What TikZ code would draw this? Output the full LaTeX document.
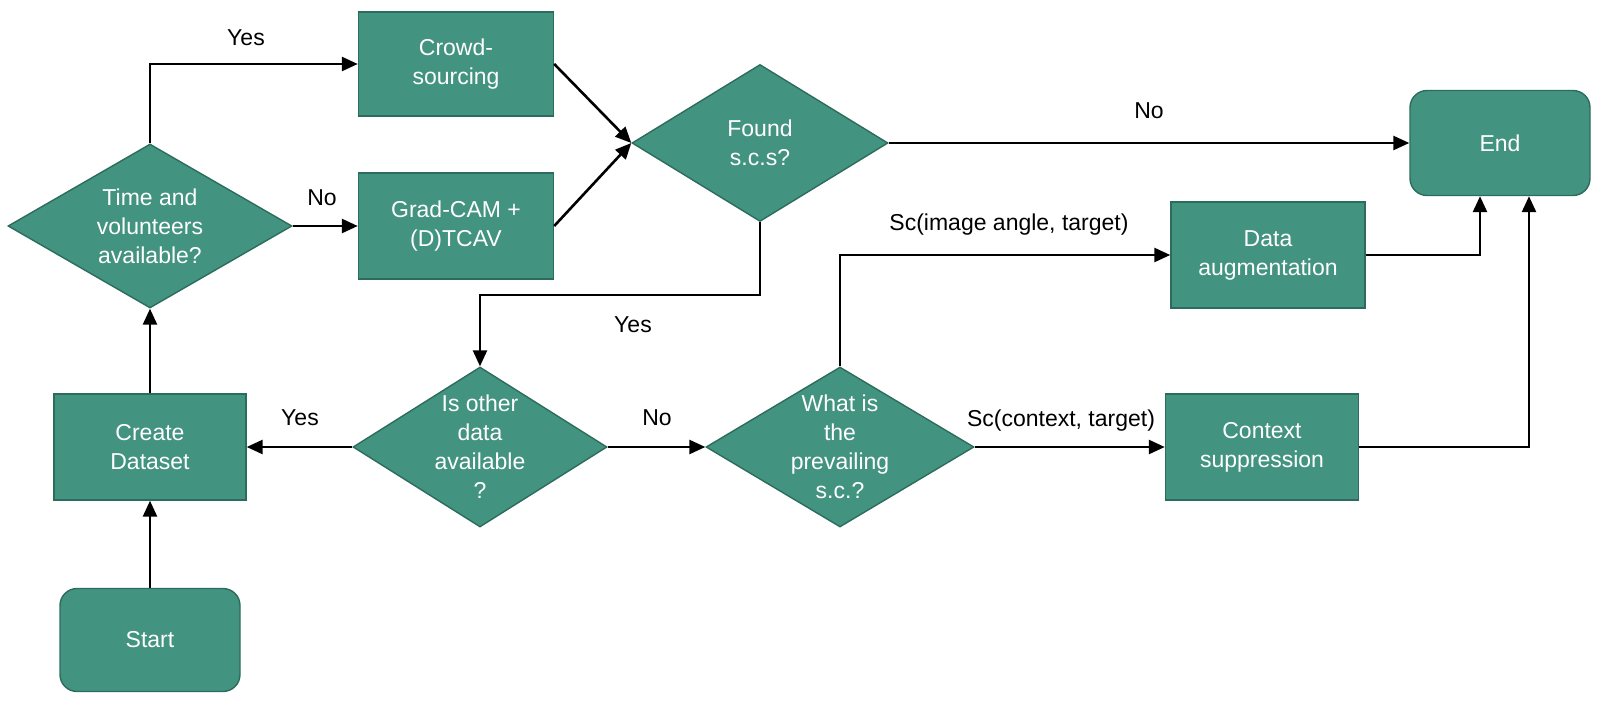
\documentclass[tikz,border=0pt]{standalone}
\usepackage{fontspec}
\setmainfont{Liberation Sans}
\usetikzlibrary{shapes.geometric,arrows.meta,calc}
\definecolor{teal1}{RGB}{67,147,129}
\definecolor{teal2}{RGB}{45,108,93}
\begin{document}
\begin{tikzpicture}[x=0.5pt,y=-0.5pt,
  box/.style={draw=teal2,fill=teal1,line width=0.7pt,inner sep=0pt},
  rbox/.style={box,rounded corners=8.5pt},
  dia/.style={draw=teal2,fill=teal1,line width=0.7pt,diamond,inner sep=0pt},
  wtxt/.style={text=white,align=center,font=\fontsize{11.5pt}{14.5pt}\selectfont},
  lbl/.style={text=black,font=\fontsize{11.5pt}{14.5pt}\selectfont},
  arr/.style={line width=1.3pt,-{Triangle[length=8pt,width=7pt]}}
]
\useasboundingbox (0,0) rectangle (1618,706);
% boxes
\node[box,minimum width=97.5pt,minimum height=52pt] (crowd) at (456,64) {};
\node[wtxt] (crowdT) at (crowd) {Crowd-\\sourcing};
\node[box,minimum width=97.5pt,minimum height=53pt] (grad) at (456,226) {};
\node[wtxt] (gradT) at (grad) {Grad-CAM +\\(D)TCAV};
\node[dia,minimum width=142pt,minimum height=82pt] (time) at (150,226) {};
\node[wtxt] (timeT) at (time) {Time and\\volunteers\\available?};
\node[dia,minimum width=128pt,minimum height=78.5pt] (found) at (760,143) {};
\node[wtxt] (foundT) at (found) {Found\\s.c.s?};
\node[rbox,minimum width=90pt,minimum height=52.5pt] (end) at (1500,143) {};
\node[wtxt] (endT) at (end) {End};
\node[box,minimum width=97pt,minimum height=53pt] (aug) at (1268,255) {};
\node[wtxt] (augT) at (aug) {Data\\augmentation};
\node[box,minimum width=96.5pt,minimum height=53pt] (ctx) at (1262,447) {};
\node[wtxt] (ctxT) at (ctx) {Context\\suppression};
\node[dia,minimum width=134pt,minimum height=80pt] (what) at (840,447) {};
\node[wtxt] (whatT) at (what) {What is\\the\\prevailing\\s.c.?};
\node[dia,minimum width=127pt,minimum height=80pt] (other) at (480,447) {};
\node[wtxt] (otherT) at (other) {Is other\\data\\available\\?};
\node[box,minimum width=96pt,minimum height=53pt] (create) at (150,447) {};
\node[wtxt] (createT) at (create) {Create\\Dataset};
\node[rbox,minimum width=90pt,minimum height=51.5pt] (start) at (150,640) {};
\node[wtxt] (startT) at (start) {Start};
% connectors
\draw[arr] (start.north) -- (create.south);
\draw[arr] (create.north) -- (time.south);
\draw[arr] (time.north) |- (crowd.west);
\draw[arr] (time.east) -- (grad.west);
\draw[arr] (crowd.east) -- (found.west);
\draw[arr] (grad.east) -- (found.west);
\draw[arr] (found.east) -- (end.west);
\coordinate (k1) at (760,295);
\draw[arr] (found.south) -- (k1) -| (other.north);
\draw[arr] (other.west) -- (create.east);
\draw[arr] (other.east) -- (what.west);
\draw[arr] (what.north) |- (aug.west);
\draw[arr] (what.east) -- (ctx.west);
\coordinate (e1) at ($(end.south)+(-20,0)$);
\coordinate (e2) at ($(end.south)+(29,0)$);
\draw[arr] (aug.east) -| (e1);
\draw[arr] (ctx.east) -| (e2);
% labels
\node[lbl] (l1) at (246,38) {Yes};
\node[lbl] (l2) at (322,198) {No};
\node[lbl] (l3) at (1149,111) {No};
\node[lbl] (l4) at (633,325) {Yes};
\node[lbl] (l5) at (300,418) {Yes};
\node[lbl] (l6) at (657,418) {No};
\node[lbl] (l7) at (1009,225) {Sc(image angle, target)};
\node[lbl] (l8) at (1061,421) {Sc(context, target)};
\end{tikzpicture}
\end{document}
